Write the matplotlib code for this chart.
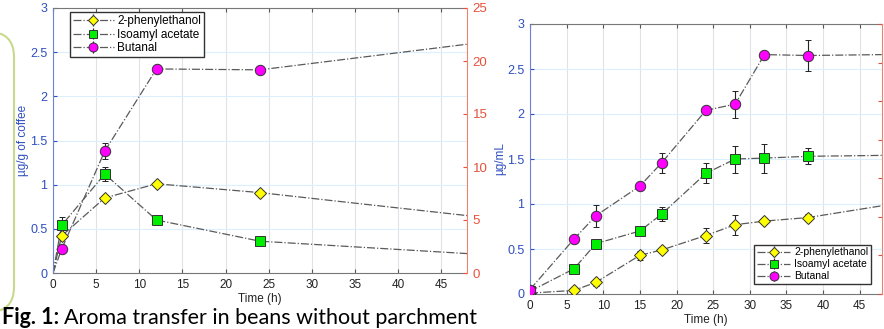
import matplotlib.pyplot as plt
from matplotlib.patches import FancyBboxPatch
from matplotlib.transforms import IdentityTransform
import numpy as np

plt.rcParams['font.family'] = ['Liberation Sans', 'DejaVu Sans']

# --- left panel: beans without parchment (µg/g of coffee) ---
left_t = [1, 6, 12, 24]
left_phenyl = [0.42, 0.85, 1.01, 0.91]
left_phenyl_err = [0.03, 0.03, 0.02, 0.02]
left_isoamyl = [0.54, 1.12, 0.60, 0.36]
left_isoamyl_err = [0.09, 0.08, 0.02, 0.02]
left_butanal = [0.27, 1.38, 2.31, 2.30]
left_butanal_err = [0.03, 0.09, 0.03, 0.03]
left_end = {'phenyl': 0.65, 'isoamyl': 0.22, 'butanal': 2.59}   # value of trend at 48 h

# --- right panel (µg/mL) ---
right_t = [0, 6, 9, 15, 18, 24, 28, 32, 38]
right_phenyl = [0.01, 0.04, 0.13, 0.43, 0.49, 0.65, 0.77, 0.81, 0.85]
right_phenyl_err = [0.0, 0.02, 0.04, 0.05, 0.03, 0.08, 0.11, 0.03, 0.04]
right_isoamyl = [0.03, 0.28, 0.56, 0.70, 0.89, 1.34, 1.50, 1.51, 1.53]
right_isoamyl_err = [0.0, 0.02, 0.03, 0.02, 0.08, 0.11, 0.15, 0.16, 0.09]
right_butanal = [0.05, 0.61, 0.87, 1.20, 1.46, 2.04, 2.11, 2.66, 2.65]
right_butanal_err = [0.0, 0.03, 0.12, 0.02, 0.11, 0.02, 0.15, 0.02, 0.17]
right_end = {'phenyl': 0.98, 'isoamyl': 1.54, 'butanal': 2.66}

names = ['2-phenylethanol', 'Isoamyl acetate', 'Butanal']
keys = ['phenyl', 'isoamyl', 'butanal']
markers = ['D', 's', 'o']
faces = ['#ffff00', '#00ee00', '#ff00ff']
msizes = [6, 6.5, 7.5]

BLUE = '#2f4fc0'
RED = '#e8503c'
T_END = 48

fig = plt.figure(figsize=(8.84, 3.29), dpi=100)
W, H = 884, 329


def style_axes(ax, ylab, right_max, right_step, right_labels=True):
    ax.set_xlim(0, T_END)
    ax.set_ylim(0, 3)
    ax.set_xticks(np.arange(0, 50, 5))
    ax.set_yticks(np.arange(0, 3.01, 0.5))
    ax.set_yticklabels(['0' if v == 0 else f'{v:g}' for v in np.arange(0, 3.01, 0.5)])
    ax.xaxis.grid(True, color='#dfe3e8', lw=0.8)
    ax.yaxis.grid(True, color='#dcefff', lw=0.8)
    ax.set_axisbelow(True)
    ax.tick_params(axis='x', direction='in', length=3, labelsize=8.5, top=True, pad=4,
                   colors='#555555', labelcolor='#222222')
    ax.tick_params(axis='y', direction='in', length=3, labelsize=9, colors=BLUE, pad=4)
    ax.spines['left'].set_color('#6b82d6')
    ax.spines['bottom'].set_color('#777777')
    ax.spines['top'].set_color('#777777')
    ax.spines['right'].set_visible(False)
    ax.set_xlabel('Time (h)', fontsize=8.5, color='#222222', labelpad=2)
    ax.set_ylabel(ylab, fontsize=8.5, color=BLUE, labelpad=1)
    ax2 = ax.twinx()
    ax2.set_ylim(0, right_max)
    ax2.set_yticks(np.arange(0, right_max + 0.1, right_step))
    ax2.tick_params(axis='y', direction='in', length=3, labelsize=9.5, colors=RED, pad=4)
    for s in ['left', 'top', 'bottom']:
        ax2.spines[s].set_visible(False)
    ax2.spines['right'].set_color('#f08070')
    if not right_labels:
        ax2.set_yticklabels([])
    return ax2


def draw_series(ax, t, vals, errs, end, start_zero, i):
    lx = ([0] if start_zero else []) + list(t) + [T_END]
    ly = ([0] if start_zero else []) + list(vals) + [end]
    ax.plot(lx, ly, ls='-.', color='#5a5a5a', lw=0.9, zorder=2)
    h = ax.errorbar(t, vals, yerr=errs, fmt=markers[i], ms=msizes[i], mfc=faces[i],
                    mec='#333333', mew=0.7, ecolor='#222222', elinewidth=0.8,
                    capsize=2.5, capthick=0.8, zorder=3, label=names[i])
    return h


# left panel
axL = fig.add_axes([53 / W, (H - 273) / H, (467 - 53) / W, (273 - 8) / H])
style_axes(axL, 'µg/g of coffee', 25, 5)
left_data = [(left_phenyl, left_phenyl_err), (left_isoamyl, left_isoamyl_err),
             (left_butanal, left_butanal_err)]
handles = []
for i, (v, e) in enumerate(left_data):
    draw_series(axL, left_t, v, e, left_end[keys[i]], True, i)
    handles.append(axL.errorbar([], [], yerr=[], fmt=markers[i], ms=msizes[i] - 1,
                                mfc=faces[i], mec='#333333', mew=0.7, ecolor='#222222',
                                capsize=2.5, ls='-.', color='#5a5a5a', lw=0.9))
axL.legend(handles, names, loc='upper left', bbox_to_anchor=(0.04, 0.985),
           fontsize=8.5, frameon=True, fancybox=False, edgecolor='#333333',
           framealpha=1, handlelength=3.5, borderpad=0.25, labelspacing=0.15,
           handletextpad=0.3, borderaxespad=0)

# right panel
axR = fig.add_axes([530 / W, (H - 294) / H, (881.7 - 530) / W, (294 - 24) / H])
style_axes(axR, 'µg/mL', 35, 5, right_labels=False)
right_data = [(right_phenyl, right_phenyl_err), (right_isoamyl, right_isoamyl_err),
              (right_butanal, right_butanal_err)]
for i, (v, e) in enumerate(right_data):
    draw_series(axR, right_t, v, e, right_end[keys[i]], False, i)
axR.legend(handles, names, loc='lower right', bbox_to_anchor=(0.97, 0.037),
           fontsize=7.5, frameon=True, fancybox=False, edgecolor='#333333',
           framealpha=1, handlelength=3.2, borderpad=0.25, labelspacing=0.2,
           handletextpad=0.4, borderaxespad=0)

# green rounded frame at the left edge
box = FancyBboxPatch((-40, H - 312), 54, 280, boxstyle='round,pad=0,rounding_size=25',
                     transform=IdentityTransform(), fill=False, edgecolor='#c8d98e',
                     lw=1.5, clip_on=False)
fig.patches.append(box)

# caption along the bottom edge
cap_font = ['Lato', 'DejaVu Sans']
cap_y = (H - 324) / H
t1 = fig.text(2 / W, cap_y, 'Fig. 1:', fontsize=15.5, fontweight='bold',
              family=cap_font, va='baseline', ha='left')
fig.canvas.draw()
bb = t1.get_window_extent()
fig.text((bb.x1 + 5) / W, cap_y, 'Aroma transfer in beans without parchment',
         fontsize=15.5, family=cap_font, va='baseline', ha='left')

fig.savefig('out.png', dpi=100)
